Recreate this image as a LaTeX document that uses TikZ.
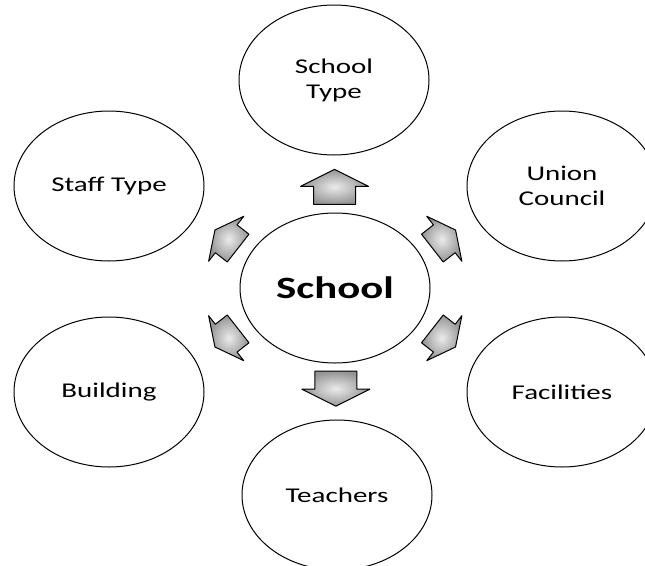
\documentclass[tikz,border=0pt]{standalone}
\usepackage{fontspec}
\newfontfamily\labelfont{Carlito}[FakeStretch = 1.38]
\usepackage{tikz}
\usetikzlibrary{arrows.meta}
\usetikzlibrary{positioning, shapes.geometric, calc}
\tikzset{
topic/.style = { ellipse, draw = black, fill = white, line width = 1pt, minimum width = 190pt, minimum height = 150pt, inner sep = 0pt, align = center, font = \labelfont\fontsize{21}{25}\selectfont },
hub/.style = { topic, font = \labelfont\bfseries\fontsize{31}{36}\selectfont },
}
\tikzset{
pics/block arrow/.style = {
        code = {
        \path[draw = black, line width = 1pt, line join = round, inner color = black!8, outer color = black!42, scale = #1] (-17.5, -21) -- (0.5, -21) -- (0.5, -34) -- (17.5, 0) -- (0.5, 34) -- (0.5, 21) -- (-17.5, 21) -- cycle;
        }
    }
}

\begin{document}
\begin{tikzpicture}[x = 1pt, y = -1pt]
    \useasboundingbox (0, 0) rectangle (645, 565);
    \node[hub] (school) at (335, 288) {School};
    \node[topic] (stype) at (334, 80) {School\\Type};
    \node[topic] (staff) at (109, 186) {Staff Type};
    \node[topic] (union) at (562, 186) {Union\\Council};
    \node[topic] (building) at (109, 392) {Building};
    \node[topic] (facilities) at (562, 392) {Facilities};
    \node[topic] (teachers) at (337, 495) {Teachers};
    \draw pic[rotate = 90] at ($(school.north)!0.45!(stype.south)$) {block arrow = {1}};
    \draw pic[rotate = -90] at ($(school.south)!0.45!(teachers.north)$) {block arrow = {1}};
    \draw pic[rotate = 142] at ($(school)!0.48!(staff)$) {block arrow = {0.84}};
    \draw pic[rotate = 38] at ($(school)!0.48!(union)$) {block arrow = {0.84}};
    \draw pic[rotate = 218] at ($(school)!0.48!(building)$) {block arrow = {0.84}};
    \draw pic[rotate = -38] at ($(school)!0.48!(facilities)$) {block arrow = {0.84}};
\end{tikzpicture}
\end{document}
